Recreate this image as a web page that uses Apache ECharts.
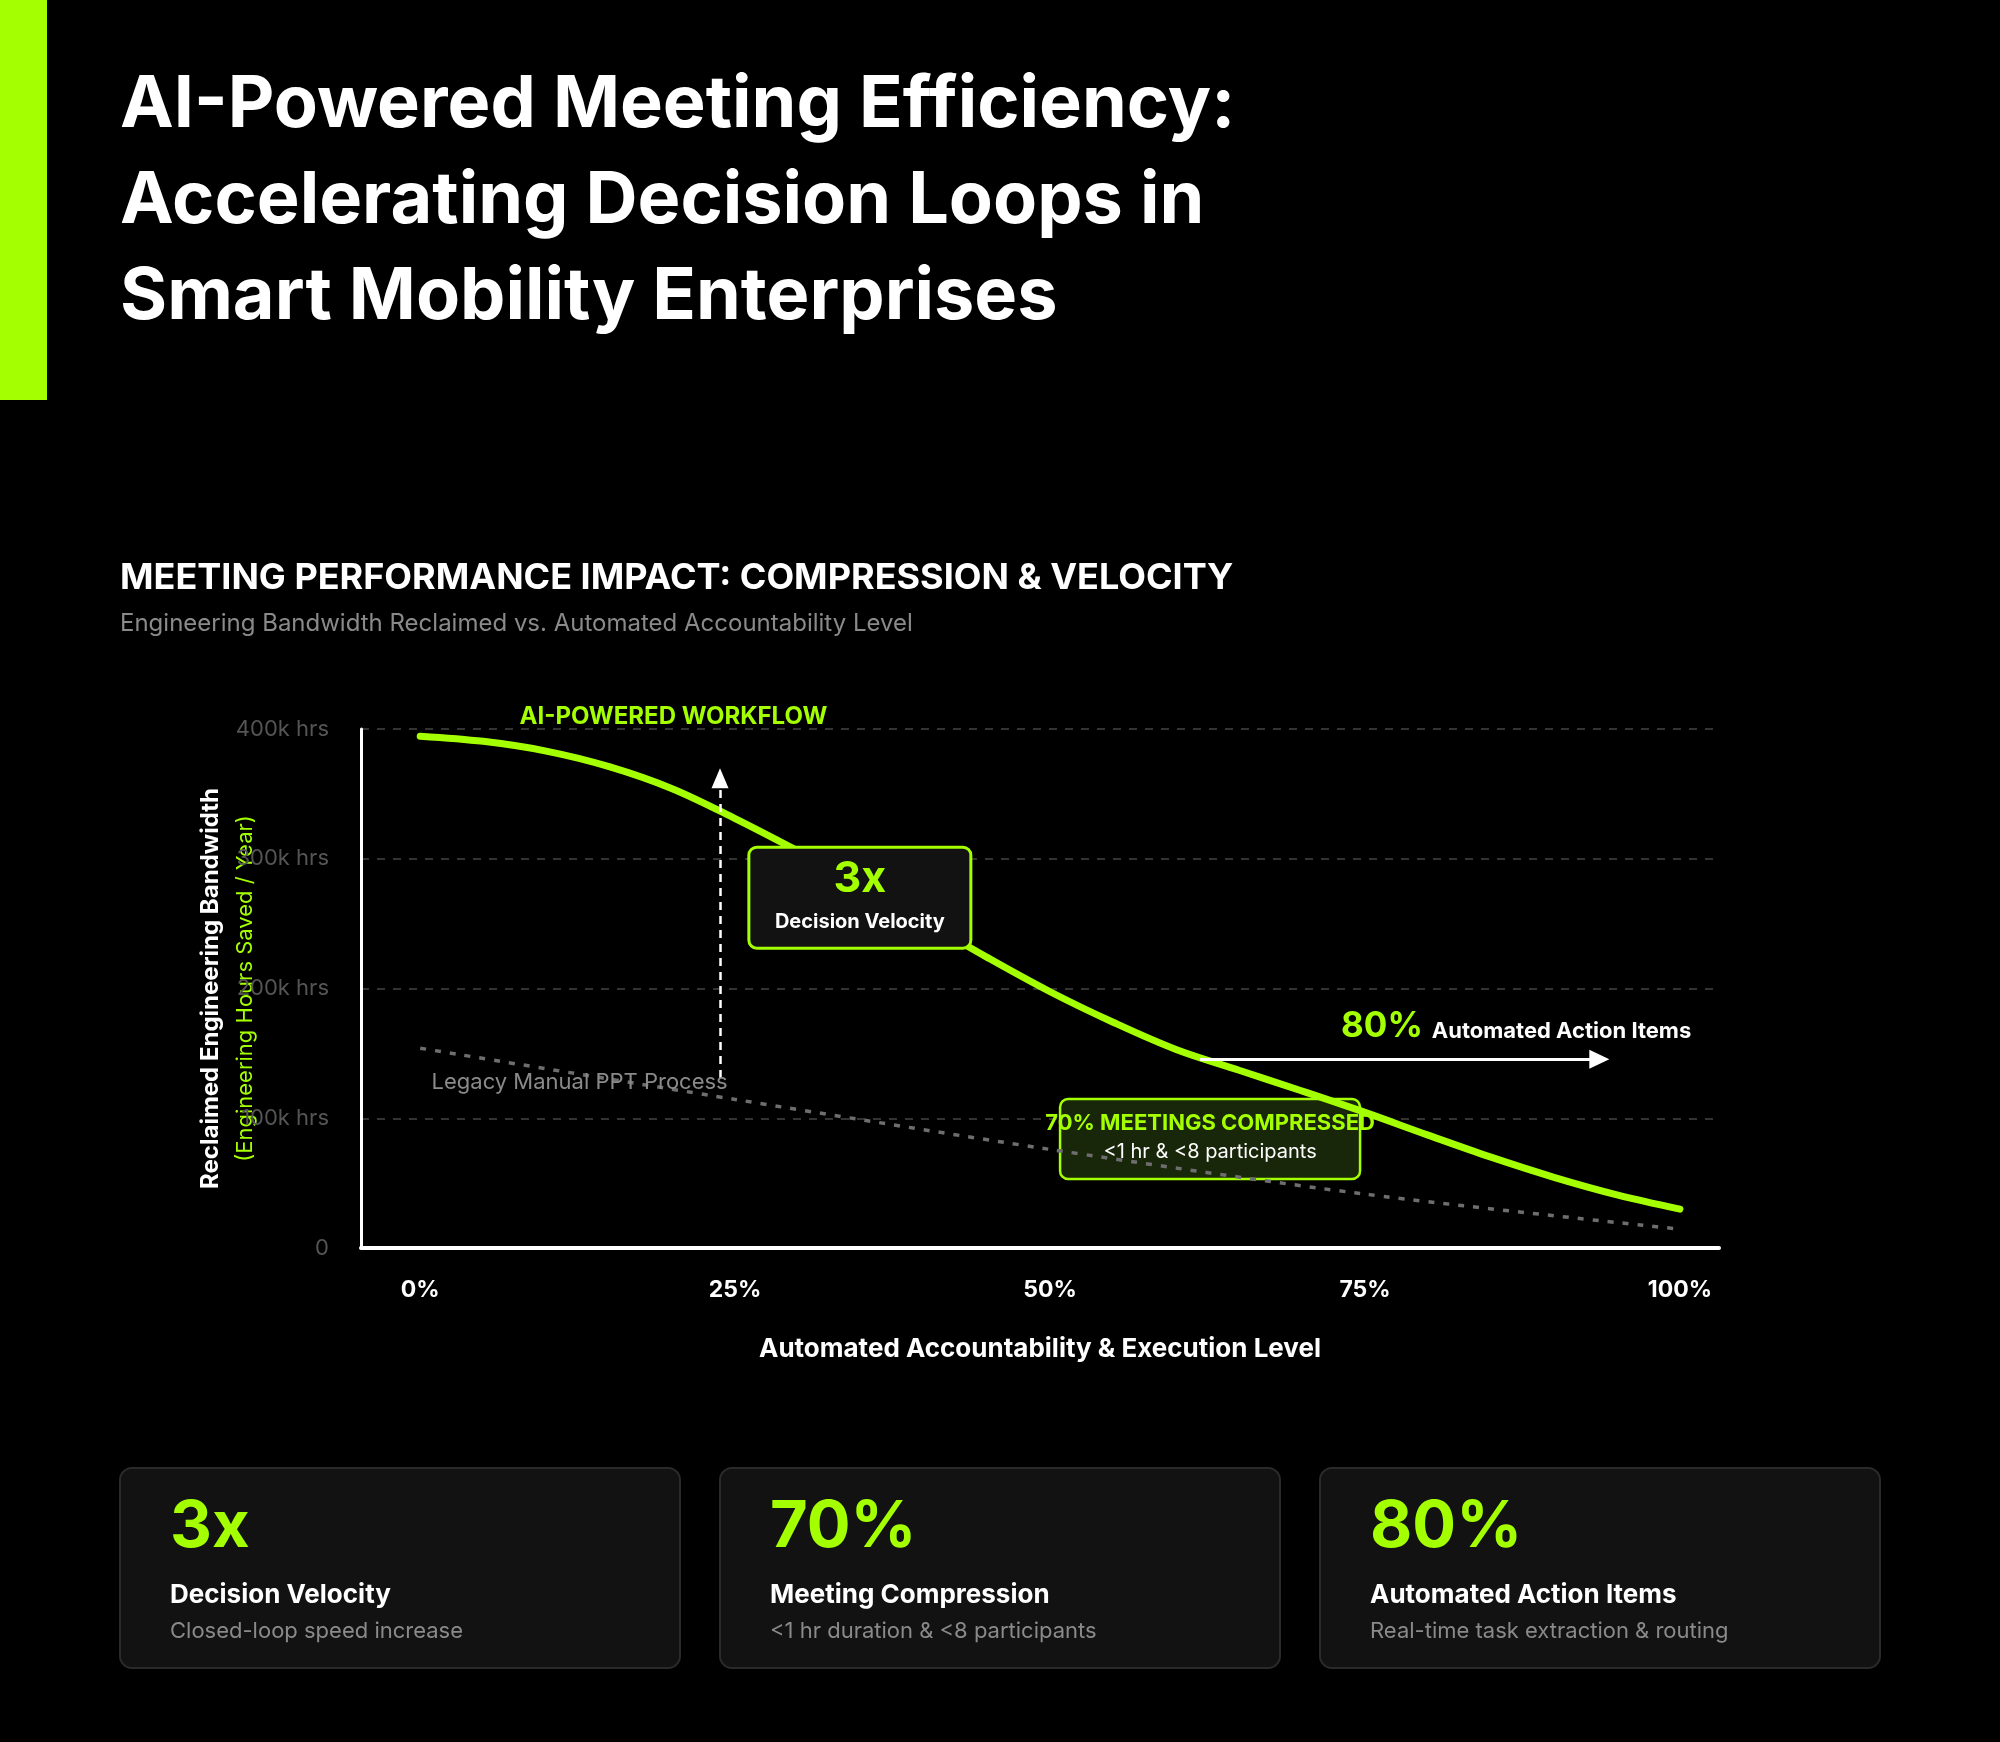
<!DOCTYPE html>
<html>
<head>
<meta charset="utf-8">
<title>AI-Powered Meeting Efficiency</title>
<script src="https://cdn.jsdelivr.net/npm/echarts@6/dist/echarts.min.js"></script>
<style>
  html, body { margin: 0; padding: 0; background: #000; }
  #main { width: 2000px; height: 1742px; }
</style>
</head>
<body>
<div id="main"></div>
<script>
// ---- data ----
var xLevels = [0, 5, 10, 15, 20, 25, 30, 35, 40, 45, 50, 55, 60, 65, 70, 75, 80, 85, 90, 95, 100]
var aiHours = [394.5, 390.5, 383, 371, 354, 331, 306, 280, 252, 224, 197.5, 174, 153, 137, 121, 104.5, 87, 70, 54.5, 41, 30]
var legacyLevels = [0, 25, 50, 75, 100]
var legacyHours = [154, 114.5, 76, 41.5, 14.5]
var xTicks = [0, 25, 50, 75, 100]

var cardValues = ['3x', '70%', '80%']
var cardTitles = ['Decision Velocity', 'Meeting Compression', 'Automated Action Items']
var cardNotes = ['Closed-loop speed increase', '<1 hr duration & <8 participants', 'Real-time task extraction & routing']

// annotation anchors, in data coordinates [level %, k hrs]
var velocityArrow = [[23.8, 131], [23.8, 362]]
var actionArrow = [[61.9, 145.5], [93.6, 145.5]]
var velocityBoxAt = [34.9, 270]
var compressBoxAt = [62.7, 84]
var workflowAt = [20.1, 409.5]
var legacyAt = [0.9, 128]
var actionValueAt = [73.1, 171]
var actionTextAt = [80.3, 167]

var GREEN = '#a4ff00'
var FONT = 'Inter'

var myChart = echarts.init(document.getElementById('main'), null, { renderer: 'canvas' })

function pairs (xs, ys) {
  return xs.map(function (x, i) { return [x, ys[i]] })
}

var option = {
  backgroundColor: '#000',
  animation: false,
  title: [
    {
      text: 'AI-Powered Meeting Efficiency:\nAccelerating Decision Loops in\nSmart Mobility Enterprises',
      left: 120, top: 57, padding: 0,
      textStyle: { color: '#fff', fontFamily: FONT, fontWeight: 'bold', fontSize: 72, lineHeight: 96 }
    },
    {
      text: 'MEETING PERFORMANCE IMPACT: COMPRESSION & VELOCITY',
      left: 120, top: 556, padding: 0,
      textStyle: { color: '#fff', fontFamily: FONT, fontWeight: 'bold', fontSize: 36, lineHeight: 44 }
    },
    {
      text: 'Engineering Bandwidth Reclaimed vs. Automated Accountability Level',
      left: 120, top: 609, padding: 0,
      textStyle: { color: '#8a8a8a', fontFamily: FONT, fontWeight: 'normal', fontSize: 24, lineHeight: 30 }
    }
  ],
  grid: { left: 361, right: 281, top: 729, bottom: 494 },
  xAxis: {
    type: 'value',
    min: -4.7,
    max: 103.1,
    name: 'Automated Accountability & Execution Level',
    nameLocation: 'middle',
    nameGap: 85,
    nameMoveOverlap: false,
    nameTextStyle: { color: '#fff', fontFamily: FONT, fontWeight: 'bold', fontSize: 26, lineHeight: 32 },
    axisLine: { show: true, lineStyle: { color: '#fff', width: 4 } },
    axisTick: { show: false },
    splitLine: { show: false },
    axisLabel: {
      customValues: xTicks,
      margin: 31,
      color: '#fff',
      fontFamily: FONT,
      fontWeight: 'bold',
      fontSize: 23,
      formatter: function (v) { return v + '%' }
    }
  },
  yAxis: {
    type: 'value',
    min: 0,
    max: 400,
    interval: 100,
    name: '{a|Reclaimed Engineering Bandwidth}\n{b|(Engineering Hours Saved / Year)}',
    nameLocation: 'middle',
    nameGap: 99,
    nameMoveOverlap: false,
    nameTextStyle: {
      fontFamily: FONT,
      rich: {
        a: { color: '#fff', fontFamily: FONT, fontWeight: 'bold', fontSize: 24, lineHeight: 34 },
        b: { color: GREEN, fontFamily: FONT, fontWeight: 'normal', fontSize: 22, lineHeight: 34 }
      }
    },
    axisLine: { show: true, onZero: false, lineStyle: { color: '#fff', width: 3 } },
    axisTick: { show: false },
    splitLine: { show: true, lineStyle: { color: '#333', width: 2, type: [8, 8] } },
    axisLabel: {
      margin: 32,
      color: '#555',
      fontFamily: FONT,
      fontSize: 22,
      formatter: function (v) { return v === 0 ? '0' : v + 'k hrs' }
    }
  },
  series: [
    {
      name: 'Legacy Manual PPT Process',
      type: 'line',
      data: pairs(legacyLevels, legacyHours),
      smooth: 0.3,
      showSymbol: false,
      silent: true,
      z: 2,
      lineStyle: { color: '#6e6e6e', width: 3.5, type: [6, 9] },
      markLine: {
        silent: true,
        animation: false,
        label: { show: false },
        emphasis: { disabled: true },
        data: [
          [
            { coord: velocityArrow[0], symbol: 'none', lineStyle: { color: '#fff', width: 2.5, type: [8, 6] } },
            { coord: velocityArrow[1], symbol: 'triangle', symbolSize: [17, 20] }
          ],
          [
            { coord: actionArrow[0], symbol: 'none', lineStyle: { color: '#fff', width: 3, type: 'solid' } },
            { coord: actionArrow[1], symbol: 'triangle', symbolSize: [19, 20] }
          ]
        ]
      }
    },
    {
      name: 'AI-Powered Workflow',
      type: 'line',
      data: pairs(xLevels, aiHours),
      smooth: 0.35,
      showSymbol: false,
      silent: true,
      z: 3,
      lineStyle: { color: GREEN, width: 7, cap: 'round' }
    }
  ]
}

myChart.setOption(option)

// ---- annotations & cards ----
function toPx (pt) {
  return myChart.convertToPixel({ gridIndex: 0 }, pt)
}

function txt (x, y, text, size, weight, color, align, z) {
  return {
    type: 'text',
    x: x, y: y, z: z || 20,
    style: {
      text: text, fill: color, fontFamily: FONT, fontSize: size, fontWeight: weight,
      textAlign: align || 'center', textVerticalAlign: 'middle'
    }
  }
}

var g = []
// accent bar
g.push({ type: 'rect', shape: { x: 0, y: 0, width: 47, height: 400 }, style: { fill: GREEN }, z: 1 })

var p = toPx(workflowAt)
g.push(txt(p[0], p[1], 'AI-POWERED WORKFLOW', 24, 'bold', GREEN))

p = toPx(legacyAt)
g.push(txt(p[0], p[1], 'Legacy Manual PPT Process', 22, 'normal', '#8a8a8a', 'left'))

// 3x box (sits above the curve)
p = toPx(velocityBoxAt)
g.push({
  type: 'rect', z: 20,
  shape: { x: p[0] - 111, y: p[1] - 50.5, width: 222, height: 101, r: 8 },
  style: { fill: '#121212', stroke: GREEN, lineWidth: 3 }
})
g.push(txt(p[0], p[1] - 19, '3x', 43, 'bold', GREEN, 'center', 21))
g.push(txt(p[0], p[1] + 24, 'Decision Velocity', 20, 'bold', '#fff', 'center', 21))

// 70% box (sits under the curve)
p = toPx(compressBoxAt)
g.push({
  type: 'rect', z: 1,
  shape: { x: p[0] - 150, y: p[1] - 40, width: 300, height: 80, r: 8 },
  style: { fill: '#18260a', stroke: GREEN, lineWidth: 2.5 }
})
g.push(txt(p[0], p[1] - 16, '70% MEETINGS COMPRESSED', 22, 'bold', GREEN, 'center', 21))
g.push(txt(p[0], p[1] + 13, '<1 hr & <8 participants', 20, 'normal', '#fff', 'center', 21))

p = toPx(actionValueAt)
g.push(txt(p[0], p[1], '80%', 35, 'bold', GREEN, 'left'))
p = toPx(actionTextAt)
g.push(txt(p[0], p[1], 'Automated Action Items', 22, 'bold', '#fff', 'left'))

// summary cards
for (var i = 0; i < cardValues.length; i++) {
  var cx = 120 + i * 600
  g.push({
    type: 'rect', z: 1,
    shape: { x: cx, y: 1468, width: 560, height: 200, r: 12 },
    style: { fill: '#121212', stroke: '#2a2a2a', lineWidth: 2 }
  })
  g.push(txt(cx + 50, 1527, cardValues[i], 65, 'bold', GREEN, 'left'))
  g.push(txt(cx + 50, 1595, cardTitles[i], 26, 'bold', '#fff', 'left'))
  g.push(txt(cx + 50, 1631, cardNotes[i], 22, 'normal', '#8a8a8a', 'left'))
}

myChart.setOption({ graphic: { elements: g } })

window.addEventListener('resize', function () {
  myChart.resize()
})
</script>
</body>
</html>
